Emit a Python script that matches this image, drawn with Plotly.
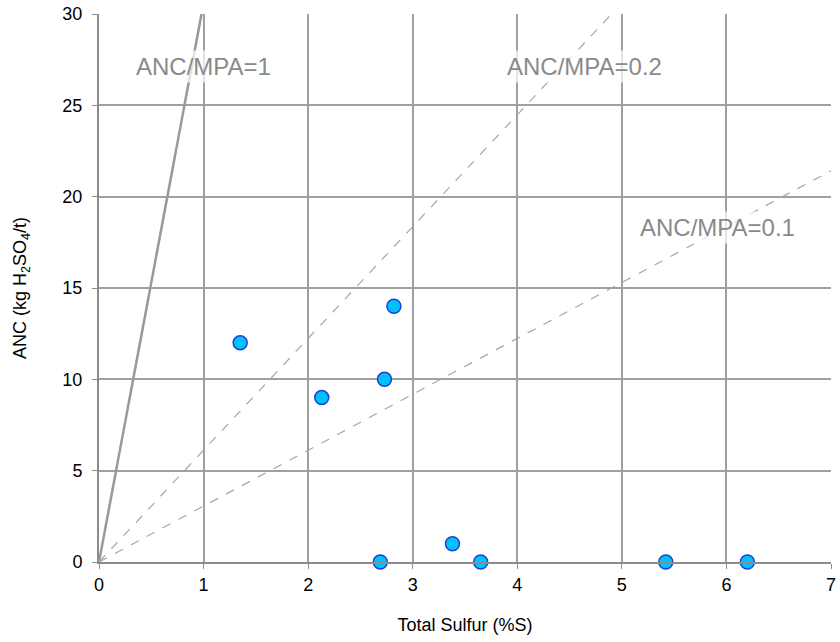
import plotly.graph_objects as go

total_sulfur = [1.35, 2.13, 2.73, 2.82, 2.69, 3.38, 3.65, 5.42, 6.20]
anc = [12, 9, 10, 14, 0, 1, 0, 0, 0]
ratios = [1, 0.2, 0.1]
ratio_labels = ["ANC/MPA=1", "ANC/MPA=0.2", "ANC/MPA=0.1"]
label_pos_x = [1.0, 4.64, 5.91]
label_pos_y = [27.1, 27.1, 18.3]
MPA_FACTOR = 30.6
x_ticks = [0, 1, 2, 3, 4, 5, 6, 7]
y_ticks = [0, 5, 10, 15, 20, 25, 30]
x_end = 7

FONT = "Liberation Sans, Arial, sans-serif"

fig = go.Figure()
for r in ratios:
    xs = [0, x_end]
    ys = [0, x_end * MPA_FACTOR * r]
    if r == 1:
        line = dict(color="#999999", width=2.5)
    else:
        line = dict(color="#a6a6a6", width=1.2, dash="dash")
    fig.add_trace(go.Scatter(x=xs, y=ys, mode="lines", line=line,
                             showlegend=False, hoverinfo="skip"))

fig.add_trace(go.Scatter(x=total_sulfur, y=anc, mode="markers",
                         marker=dict(size=14, color="#00c0ff",
                                     line=dict(color="#2040d0", width=1.5)),
                         showlegend=False, cliponaxis=False))

for t, x, y in zip(ratio_labels, label_pos_x, label_pos_y):
    fig.add_annotation(x=x, y=y, text=t, showarrow=False,
                       font=dict(family=FONT, size=24, color="#8a8a8a"),
                       bgcolor="rgba(255,255,255,0.7)", borderpad=2)

fig.update_layout(
    width=840, height=642,
    margin=dict(l=99, r=9, t=14, b=80),
    plot_bgcolor="white", paper_bgcolor="white",
    font=dict(family=FONT, size=18, color="#000000"),
)
fig.update_xaxes(range=[0, 7], tickmode="array", tickvals=x_ticks,
                 showgrid=True, gridcolor="#a0a0a0", gridwidth=1.5,
                 showline=True, linecolor="#8c8c8c", linewidth=2,
                 ticks="outside", ticklen=5, tickcolor="#8c8c8c", zeroline=False,
                 automargin=False, tickfont=dict(size=18),
                 title=dict(text="Total Sulfur (%S)", font=dict(size=18), standoff=25))
fig.update_yaxes(range=[0, 30], tickmode="array", tickvals=y_ticks,
                 showgrid=True, gridcolor="#a0a0a0", gridwidth=1.5,
                 showline=True, linecolor="#8c8c8c", linewidth=2,
                 ticks="outside", ticklen=5, tickcolor="#8c8c8c", zeroline=False,
                 automargin=False, tickfont=dict(size=18), ticklabelstandoff=6,
                 title=dict(text="ANC (kg H<sub>2</sub>SO<sub>4</sub>/t)", font=dict(size=18), standoff=31))

fig.write_html("out.html", config={"displayModeBar": False},
               post_script="document.body.style.margin='0';")
